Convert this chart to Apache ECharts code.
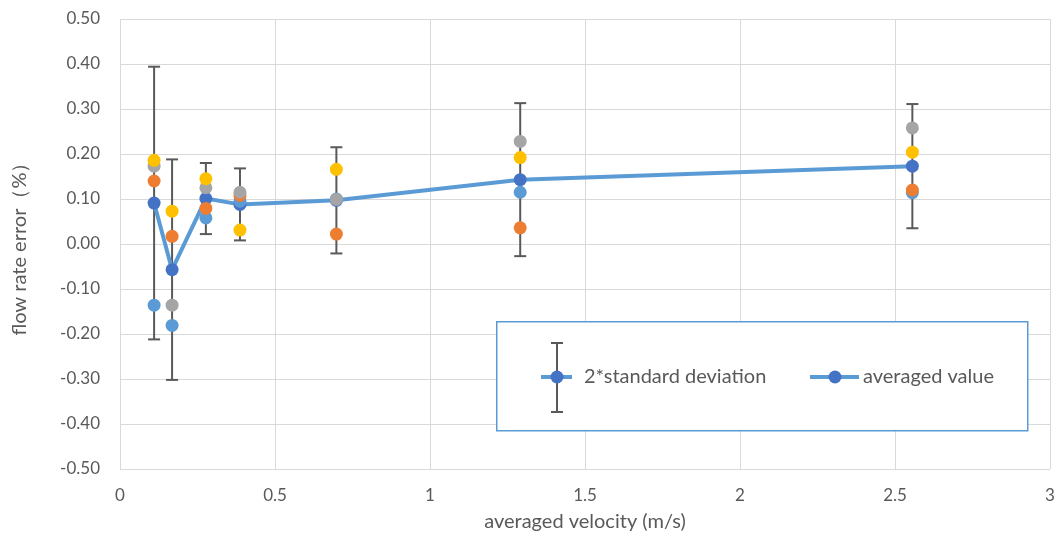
<!DOCTYPE html>
<html>
<head>
<meta charset="utf-8">
<script src="https://cdn.jsdelivr.net/npm/echarts@6/dist/echarts.min.js"></script>
<style>
  html, body { margin: 0; padding: 0; background: #fff; }
  #main { width: 1060px; height: 537px; }
</style>
</head>
<body>
<div id="main"></div>
<script>
// averaged velocity (m/s)
var velocity = [0.110, 0.168, 0.277, 0.387, 0.698, 1.291, 2.556];
// individual runs
var run1 = [-0.136, -0.181, 0.058, 0.095, 0.100, 0.115, 0.114];
var run2 = [0.140, 0.017, 0.079, 0.108, 0.022, 0.036, 0.120];
var run3 = [0.173, -0.136, 0.125, 0.115, 0.099, 0.228, 0.258];
var run4 = [0.186, 0.073, 0.145, 0.031, 0.166, 0.192, 0.204];
// averaged value and 2*standard deviation
var averaged = [0.091, -0.057, 0.101, 0.088, 0.097, 0.143, 0.173];
var twoStd = [0.303, 0.245, 0.079, 0.080, 0.118, 0.170, 0.138];

var textColor = "#595959";
var font = "Lato";

function pairs(ys) {
  var out = [];
  for (var i = 0; i < velocity.length; i++) out.push([velocity[i], ys[i]]);
  return out;
}

var errData = [];
for (var i = 0; i < velocity.length; i++) {
  errData.push([velocity[i], averaged[i] - twoStd[i], averaged[i] + twoStd[i]]);
}

var myChart = echarts.init(document.getElementById("main"));

var option = {
  animation: false,
  grid: { left: 120, right: 10, top: 19, bottom: 68 },
  xAxis: {
    type: "value",
    min: 0,
    max: 3,
    interval: 0.5,
    name: "averaged velocity (m/s)",
    nameLocation: "middle",
    nameGap: 43,
    nameTextStyle: { color: textColor, fontSize: 20, fontFamily: font },
    axisLine: { show: false },
    axisTick: { show: false },
    axisLabel: { color: textColor, fontSize: 17, fontFamily: font, margin: 18 },
    splitLine: { show: true, lineStyle: { color: "#d9d9d9", width: 1 } }
  },
  yAxis: {
    type: "value",
    min: -0.5,
    max: 0.5,
    interval: 0.1,
    name: "flow rate error（%）",
    nameLocation: "middle",
    nameGap: 90,
    nameRotate: 90,
    nameTextStyle: { color: textColor, fontSize: 20, fontFamily: font },
    axisLine: { show: false },
    axisTick: { show: false },
    axisLabel: {
      color: textColor,
      fontSize: 17,
      fontFamily: font,
      margin: 20,
      formatter: function (v) { return v.toFixed(2); }
    },
    splitLine: { show: true, lineStyle: { color: "#d9d9d9", width: 1 } }
  },
  series: [
    {
      name: "2*standard deviation",
      type: "custom",
      z: 1,
      data: errData,
      renderItem: function (params, api) {
        var x = api.value(0);
        var lo = api.coord([x, api.value(1)]);
        var hi = api.coord([x, api.value(2)]);
        var half = 6;
        var st = { stroke: "#595959", lineWidth: 2 };
        return {
          type: "group",
          children: [
            { type: "line", shape: { x1: lo[0], y1: lo[1], x2: hi[0], y2: hi[1] }, style: st },
            { type: "line", shape: { x1: hi[0] - half, y1: hi[1], x2: hi[0] + half, y2: hi[1] }, style: st },
            { type: "line", shape: { x1: lo[0] - half, y1: lo[1], x2: lo[0] + half, y2: lo[1] }, style: st }
          ]
        };
      }
    },
    {
      name: "averaged value",
      type: "line",
      z: 2,
      data: pairs(averaged),
      symbol: "circle",
      symbolSize: 13,
      lineStyle: { color: "#5b9bd5", width: 4 },
      itemStyle: { color: "#4472c4" }
    },
    { name: "run1", type: "scatter", z: 3, data: pairs(run1), symbolSize: 13, itemStyle: { color: "#5b9bd5", opacity: 1 } },
    { name: "run2", type: "scatter", z: 3, data: pairs(run2), symbolSize: 13, itemStyle: { color: "#ed7d31", opacity: 1 } },
    { name: "run3", type: "scatter", z: 3, data: pairs(run3), symbolSize: 13, itemStyle: { color: "#a5a5a5", opacity: 1 } },
    { name: "run4", type: "scatter", z: 3, data: pairs(run4), symbolSize: 13, itemStyle: { color: "#ffc000", opacity: 1 } }
  ],
  // legend box drawn as graphic (error bar icon + line marker)
  graphic: [
    {
      type: "rect",
      left: 496, top: 321,
      shape: { width: 531, height: 109 },
      style: { fill: "#fff", stroke: "#5b9bd5", lineWidth: 1.5 },
      z: 10
    },
    { type: "line", shape: { x1: 557, y1: 343, x2: 557, y2: 412 }, style: { stroke: "#595959", lineWidth: 2 }, z: 11 },
    { type: "line", shape: { x1: 551, y1: 343, x2: 563, y2: 343 }, style: { stroke: "#595959", lineWidth: 2 }, z: 11 },
    { type: "line", shape: { x1: 551, y1: 412, x2: 563, y2: 412 }, style: { stroke: "#595959", lineWidth: 2 }, z: 11 },
    { type: "line", shape: { x1: 541, y1: 377, x2: 572, y2: 377 }, style: { stroke: "#5b9bd5", lineWidth: 4 }, z: 11 },
    { type: "circle", shape: { cx: 557, cy: 377, r: 6.5 }, style: { fill: "#4472c4" }, z: 12 },
    {
      type: "text", z: 12,
      style: { x: 584, y: 377, verticalAlign: "middle", text: "2*standard deviation", fill: textColor, font: "20px " + font }
    },
    { type: "line", shape: { x1: 810, y1: 377, x2: 859, y2: 377 }, style: { stroke: "#5b9bd5", lineWidth: 4 }, z: 11 },
    { type: "circle", shape: { cx: 835, cy: 377, r: 6.5 }, style: { fill: "#4472c4" }, z: 12 },
    {
      type: "text", z: 12,
      style: { x: 863, y: 377, verticalAlign: "middle", text: "averaged value", fill: textColor, font: "20px " + font }
    }
  ]
};

myChart.setOption(option);
</script>
</body>
</html>
